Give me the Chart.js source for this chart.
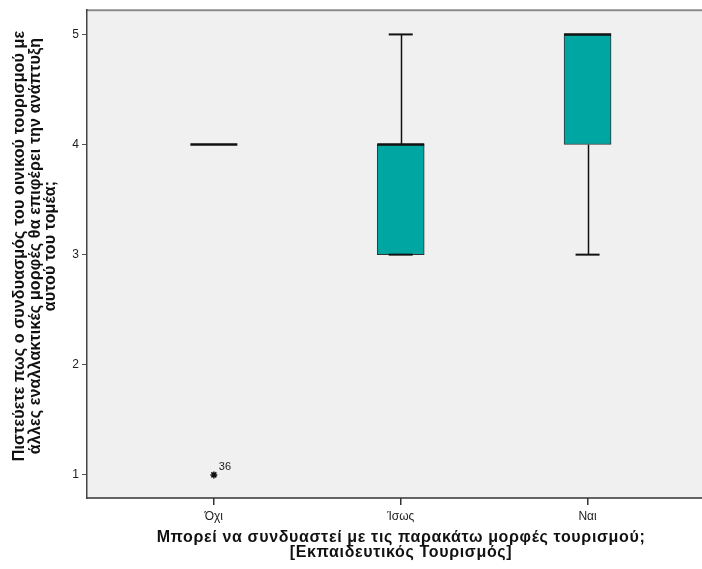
<!DOCTYPE html>
<html lang="el">
<head>
  <meta charset="UTF-8">
  <title>Boxplot</title>
  <script src="https://cdn.jsdelivr.net/npm/chart.js"></script>
  <style>
    * { margin: 0; padding: 0; box-sizing: border-box; }
    body { background: #fff; width: 702px; height: 569px; overflow: hidden; }
    .wrap { position: relative; width: 702px; height: 569px; }
  </style>
</head>
<body>
  <div class="wrap"><canvas id="box"></canvas></div>
  <script>
    // box plot summary per category
    const categories = ['Όχι', 'Ίσως', 'Ναι'];
    const mins = [4, 3, 3];
    const q1 = [4, 3, 4];
    const medians = [4, 4, 5];
    const q3 = [4, 4, 5];
    const maxs = [4, 5, 5];
    const outlierCats = [0];
    const outlierValues = [1];
    const outlierLabels = ['36'];
    const yTicks = [1, 2, 3, 4, 5];
    const xTitle = ['Μπορεί να συνδυαστεί με τις παρακάτω μορφές τουρισμού;', '[Εκπαιδευτικός Τουρισμός]'];
    const yTitle = ['Πιστεύετε πως ο συνδυασμός του οινικού τουρισμού με', 'άλλες εναλλακτικές μορφές θα επιφέρει την ανάπτυξη', 'αυτού του τομέα;'];

    const FONT = "'Liberation Sans', Arial, sans-serif";
    const BOX_W = 47;
    const CAP_W = 24;

    // frame, whiskers, medians and axis titles, drawn with the chart's scales
    const boxPlugin = {
      id: 'boxParts',
      beforeDraw(chart) {
        const { ctx, chartArea: a } = chart;
        ctx.save();
        ctx.fillStyle = '#f0f0f0';
        ctx.fillRect(a.left, a.top, chart.width - a.left, a.bottom - a.top);
        ctx.strokeStyle = '#8a8a8a';
        ctx.lineWidth = 2;
        ctx.beginPath();
        ctx.moveTo(a.left, a.top);
        ctx.lineTo(chart.width, a.top);
        ctx.stroke();
        ctx.restore();
      },
      beforeDatasetsDraw(chart) {
        const { ctx, chartArea: a, scales: { x, y } } = chart;
        ctx.save();
        // bottom axis line runs to the right edge
        ctx.strokeStyle = '#333';
        ctx.lineWidth = 1.5;
        ctx.beginPath();
        ctx.moveTo(a.left, a.bottom);
        ctx.lineTo(chart.width, a.bottom);
        ctx.stroke();
        ctx.strokeStyle = '#111';
        categories.forEach((c, i) => {
          const px = Math.round(x.getPixelForValue(i)) + 0.5;
          ctx.beginPath();
          ctx.moveTo(px, y.getPixelForValue(q3[i]));
          ctx.lineTo(px, y.getPixelForValue(maxs[i]));
          ctx.moveTo(px, y.getPixelForValue(q1[i]));
          ctx.lineTo(px, y.getPixelForValue(mins[i]));
          ctx.stroke();
        });
        ctx.restore();
      },
      afterDatasetsDraw(chart) {
        const { ctx, scales: { x, y } } = chart;
        ctx.save();
        ctx.strokeStyle = '#111';
        categories.forEach((c, i) => {
          const px = x.getPixelForValue(i);
          ctx.lineWidth = 2;
          [mins[i], maxs[i]].forEach(v => {
            if (v === medians[i]) return;
            const py = y.getPixelForValue(v);
            ctx.beginPath();
            ctx.moveTo(px - CAP_W / 2, py);
            ctx.lineTo(px + CAP_W / 2, py);
            ctx.stroke();
          });
          ctx.lineWidth = 2.5;
          const my = y.getPixelForValue(medians[i]);
          ctx.beginPath();
          ctx.moveTo(px - BOX_W / 2, my);
          ctx.lineTo(px + BOX_W / 2, my);
          ctx.stroke();
        });
        ctx.fillStyle = '#222';
        ctx.font = '11px ' + FONT;
        outlierCats.forEach((c, i) => {
          const px = x.getPixelForValue(c);
          const py = y.getPixelForValue(outlierValues[i]);
          ctx.fillText(outlierLabels[i], px + 5, py - 5);
        });
        ctx.restore();
      },
      afterDraw(chart) {
        const { ctx } = chart;
        ctx.save();
        ctx.fillStyle = '#111';
        ctx.font = 'bold 16px ' + FONT;
        ctx.textAlign = 'center';
        ctx.textBaseline = 'middle';
        ctx.letterSpacing = '0.65px';
        xTitle.forEach((t, i) => ctx.fillText(t, 401, 538 + i * 15));
        ctx.letterSpacing = '0.15px';
        ctx.translate(0, 246);
        ctx.rotate(-Math.PI / 2);
        yTitle.forEach((t, i) => ctx.fillText(t, 0, 20 + i * 15.5));
        ctx.restore();
      }
    };

    new Chart(document.getElementById('box'), {
      type: 'bar',
      data: {
        datasets: [
          {
            label: 'box',
            data: categories.map((c, i) => ({ x: i, y: [q1[i], q3[i]] })),
            backgroundColor: '#00a6a1',
            borderColor: '#333',
            borderWidth: 1,
            borderSkipped: false,
            barThickness: BOX_W
          },
          {
            type: 'scatter',
            label: 'outliers',
            data: outlierCats.map((c, i) => ({ x: c, y: outlierValues[i] })),
            pointStyle: 'star',
            radius: 3.5,
            borderColor: '#111',
            borderWidth: 1.5,
            backgroundColor: '#111'
          }
        ]
      },
      options: {
        responsive: true,
        maintainAspectRatio: false,
        animation: false,
        layout: { padding: { top: 9, right: 0, left: 0, bottom: 0 } },
        plugins: {
          legend: { display: false },
          tooltip: { enabled: false }
        },
        scales: {
          x: {
            type: 'linear',
            offset: false,
            min: -0.679,
            max: 2.583,
            afterBuildTicks: s => { s.ticks = categories.map((c, i) => ({ value: i })); },
            afterFit: s => { s.height = 71; },
            ticks: {
              callback: v => categories[v],
              color: '#222',
              font: { family: FONT, size: 12 },
              padding: 4
            },
            grid: { offset: false, drawOnChartArea: false, drawTicks: true, tickLength: 7, color: '#333', lineWidth: 1.5 },
            border: { display: false }
          },
          y: {
            min: 0.79,
            max: 5.22,
            afterBuildTicks: s => { s.ticks = yTicks.map(v => ({ value: v })); },
            afterFit: s => { s.width = 87; },
            ticks: {
              color: '#222',
              font: { family: FONT, size: 12 },
              padding: 3
            },
            grid: { drawOnChartArea: false, drawTicks: true, tickLength: 5, color: '#555', lineWidth: 1 },
            border: { display: true, color: '#444', width: 1.5 }
          }
        }
      },
      plugins: [boxPlugin]
    });
  </script>
</body>
</html>
